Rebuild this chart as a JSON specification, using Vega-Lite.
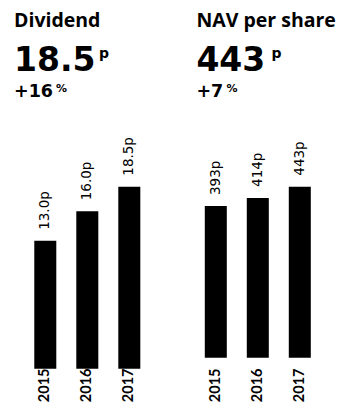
{
  "$schema": "https://vega.github.io/schema/vega-lite/v6.json",
  "padding": {"left": 14, "top": 0, "right": 0, "bottom": 0},
  "spacing": 35.4,
  "background": "#ffffff",
  "config": {"view": {"stroke": null}},
  "hconcat": [
    {
      "spacing": 86.7,
      "bounds": "flush",
      "vconcat": [
        {
          "width": 146.6,
          "height": 100,
          "data": {"values": [
            {"row": "name", "part": "main", "text": "Dividend"},
            {"row": "headline", "part": "main", "text": "18.5"},
            {"row": "headline", "part": "sup", "text": "p"},
            {"row": "change", "part": "main", "text": "+16"},
            {"row": "change", "part": "sup", "text": "%"}
          ]},
          "encoding": {
            "x": {"value": 0},
            "y": {"field": "row", "type": "nominal", "scale": {"type": "point", "domain": ["name", "headline", "change"], "padding": 0}, "axis": null},
            "text": {"field": "text"}
          },
          "layer": [
            {"transform": [{"filter": "datum.row == 'name'"}], "mark": {"type": "text", "align": "left", "baseline": "alphabetic", "dy": 27, "font": "Open Sans", "fontWeight": "bold", "fontSize": 19.5, "color": "#000"}},
            {"transform": [{"filter": "datum.row == 'headline' && datum.part == 'main'"}], "mark": {"type": "text", "align": "left", "baseline": "alphabetic", "dy": 21, "font": "DejaVu Sans", "fontWeight": "bold", "fontSize": 33, "color": "#000"}},
            {"transform": [{"filter": "datum.row == 'headline' && datum.part == 'sup'"}], "mark": {"type": "text", "align": "left", "baseline": "alphabetic", "dx": 85, "dy": 8, "font": "DejaVu Sans", "fontWeight": "bold", "fontSize": 14, "color": "#000"}},
            {"transform": [{"filter": "datum.row == 'change' && datum.part == 'main'"}], "mark": {"type": "text", "align": "left", "baseline": "alphabetic", "dy": -3, "font": "DejaVu Sans", "fontWeight": "bold", "fontSize": 17.5, "color": "#000"}},
            {"transform": [{"filter": "datum.row == 'change' && datum.part == 'sup'"}], "mark": {"type": "text", "align": "left", "baseline": "alphabetic", "dx": 42, "dy": -8, "font": "DejaVu Sans", "fontWeight": "bold", "fontSize": 11, "color": "#000"}}
          ]
        },
        {
          "width": 146.6,
          "height": 167.3,
          "data": {"values": [
            {"year": "2015", "value": 13.0, "label": "13.0p"},
            {"year": "2016", "value": 16.0, "label": "16.0p"},
            {"year": "2017", "value": 18.5, "label": "18.5p"}
          ]},
          "encoding": {
            "x": {"field": "year", "type": "ordinal", "scale": {"paddingInner": 0.476, "paddingOuter": 0.483},
              "axis": {"labelAngle": -90, "labelFont": "Lato", "labelFontWeight": "bold", "labelFontSize": 14.5, "labelColor": "#000", "labelPadding": 14, "ticks": false, "tickSize": 0, "domain": false, "title": null}},
            "y": {"field": "value", "type": "quantitative", "scale": {"domain": [1.5, 18.5], "nice": false, "zero": false}, "axis": null}
          },
          "layer": [
            {"mark": {"type": "bar", "color": "#000"}},
            {"mark": {"type": "text", "angle": 270, "align": "left", "baseline": "middle", "dx": 11, "font": "DejaVu Sans", "fontSize": 13.5, "color": "#000"}, "encoding": {"text": {"field": "label"}}}
          ]
        }
      ]
    },
    {
      "spacing": 86.7,
      "bounds": "flush",
      "vconcat": [
        {
          "width": 122.8,
          "height": 100,
          "data": {"values": [
            {"row": "name", "part": "main", "text": "NAV per share"},
            {"row": "headline", "part": "main", "text": "443"},
            {"row": "headline", "part": "sup", "text": "p"},
            {"row": "change", "part": "main", "text": "+7"},
            {"row": "change", "part": "sup", "text": "%"}
          ]},
          "encoding": {
            "x": {"value": 0},
            "y": {"field": "row", "type": "nominal", "scale": {"type": "point", "domain": ["name", "headline", "change"], "padding": 0}, "axis": null},
            "text": {"field": "text"}
          },
          "layer": [
            {"transform": [{"filter": "datum.row == 'name'"}], "mark": {"type": "text", "align": "left", "baseline": "alphabetic", "dy": 27, "font": "Open Sans", "fontWeight": "bold", "fontSize": 19.5, "color": "#000"}},
            {"transform": [{"filter": "datum.row == 'headline' && datum.part == 'main'"}], "mark": {"type": "text", "align": "left", "baseline": "alphabetic", "dy": 21, "font": "DejaVu Sans", "fontWeight": "bold", "fontSize": 33, "color": "#000"}},
            {"transform": [{"filter": "datum.row == 'headline' && datum.part == 'sup'"}], "mark": {"type": "text", "align": "left", "baseline": "alphabetic", "dx": 75, "dy": 8, "font": "DejaVu Sans", "fontWeight": "bold", "fontSize": 14, "color": "#000"}},
            {"transform": [{"filter": "datum.row == 'change' && datum.part == 'main'"}], "mark": {"type": "text", "align": "left", "baseline": "alphabetic", "dy": -3, "font": "DejaVu Sans", "fontWeight": "bold", "fontSize": 17.5, "color": "#000"}},
            {"transform": [{"filter": "datum.row == 'change' && datum.part == 'sup'"}], "mark": {"type": "text", "align": "left", "baseline": "alphabetic", "dx": 30, "dy": -8, "font": "DejaVu Sans", "fontWeight": "bold", "fontSize": 11, "color": "#000"}}
          ]
        },
        {
          "width": 122.8,
          "height": 167.3,
          "data": {"values": [
            {"year": "2015", "value": 393, "label": "393p"},
            {"year": "2016", "value": 414, "label": "414p"},
            {"year": "2017", "value": 443, "label": "443p"}
          ]},
          "encoding": {
            "x": {"field": "year", "type": "ordinal", "scale": {"paddingInner": 0.476, "paddingOuter": 0.2},
              "axis": {"labelAngle": -90, "labelFont": "Lato", "labelFontWeight": "bold", "labelFontSize": 14.5, "labelColor": "#000", "labelPadding": 14, "ticks": false, "tickSize": 0, "domain": false, "title": null}},
            "y": {"field": "value", "type": "quantitative", "scale": {"domain": [10, 443], "nice": false, "zero": false}, "axis": null}
          },
          "layer": [
            {"mark": {"type": "bar", "color": "#000"}},
            {"mark": {"type": "text", "angle": 270, "align": "left", "baseline": "middle", "dx": 11, "font": "DejaVu Sans", "fontSize": 13.5, "color": "#000"}, "encoding": {"text": {"field": "label"}}}
          ]
        }
      ]
    }
  ]
}
